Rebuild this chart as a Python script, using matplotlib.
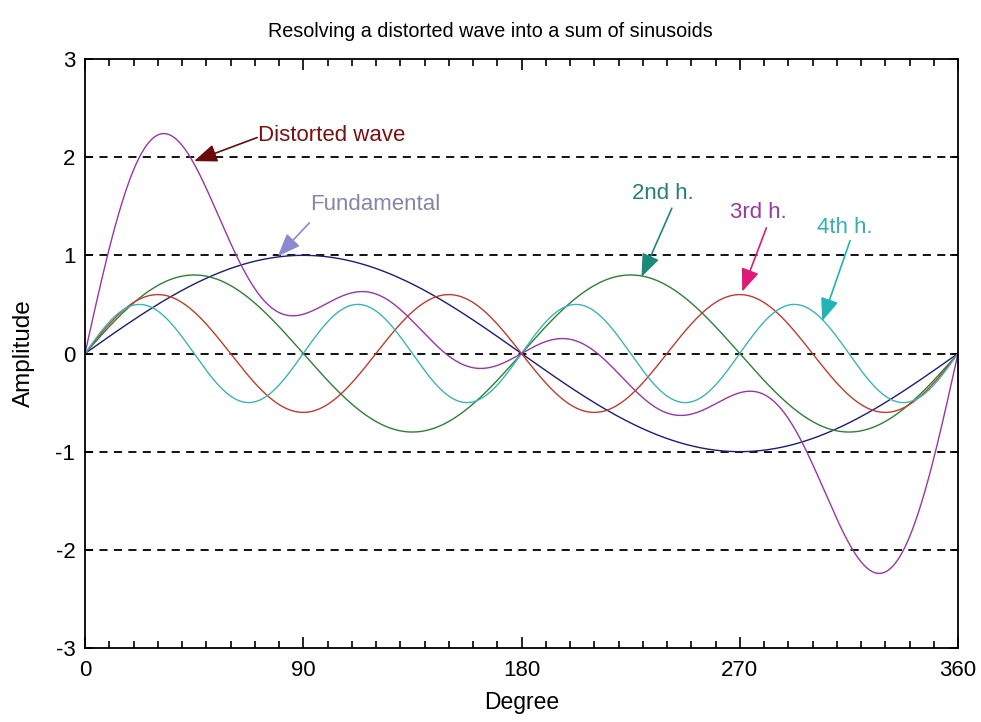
import numpy as np
import matplotlib
matplotlib.use("Agg")
import matplotlib.pyplot as plt

# ---- data ----
degree_grid = np.linspace(0, 360, 721)          # x samples (Degree)
harmonic_orders = [1, 2, 3, 4]
harmonic_amplitudes = [1.0, 0.8, 0.6, 0.5]      # peak amplitudes
harmonic_names = ["Fundamental", "2nd h.", "3rd h.", "4th h."]
distorted_name = "Distorted wave"

x_ticks = [0, 90, 180, 270, 360]
y_ticks = [-3, -2, -1, 0, 1, 2, 3]
title = "Resolving a distorted wave into a sum of sinusoids"
x_label = "Degree"
y_label = "Amplitude"

# annotation anchors (data coordinates): text position, arrow tail, arrow head
annot_text_pos = {
    "Distorted wave": (71.5, 2.22),
    "Fundamental": (93.0, 1.52),
    "2nd h.": (225.5, 1.63),
    "3rd h.": (266.0, 1.44),
    "4th h.": (302.0, 1.28),
}
annot_tail = {
    "Distorted wave": (71.0, 2.20),
    "Fundamental": (92.5, 1.33),
    "2nd h.": (242.0, 1.48),
    "3rd h.": (281.0, 1.28),
    "4th h.": (315.5, 1.15),
}
annot_head = {
    "Distorted wave": (45.0, 1.96),
    "Fundamental": (79.5, 0.99),
    "2nd h.": (229.5, 0.78),
    "3rd h.": (271.0, 0.63),
    "4th h.": (304.0, 0.33),
}

# ---- styles ----
curve_colors = ["#1c1c7a", "#2f7f35", "#c23a2c", "#3cb4b4"]
distorted_color = "#9a35a8"
text_colors = {
    "Distorted wave": "#7a1010",
    "Fundamental": "#8585a8",
    "2nd h.": "#23807a",
    "3rd h.": "#9a3a9a",
    "4th h.": "#35b0b0",
}
arrow_colors = {
    "Distorted wave": "#6a0a0a",
    "Fundamental": "#8a8ad0",
    "2nd h.": "#1a8a7a",
    "3rd h.": "#e0187a",
    "4th h.": "#20b4b4",
}

FONT = ["Liberation Sans", "DejaVu Sans"]
plt.rcParams["font.family"] = FONT
plt.rcParams["axes.unicode_minus"] = False

fig = plt.figure(figsize=(9.81, 7.22), dpi=100)
ax = fig.add_axes([85 / 981, 1 - 648 / 722, (958 - 85) / 981, (648 - 59) / 722])

rad = np.deg2rad(degree_grid)
components = []
for order, amp, color in zip(harmonic_orders, harmonic_amplitudes, curve_colors):
    y = amp * np.sin(order * rad)
    components.append(y)
    ax.plot(degree_grid, y, color=color, lw=1.0)
distorted = np.sum(components, axis=0)
ax.plot(degree_grid, distorted, color=distorted_color, lw=1.0)

# horizontal dashed grid
for yv in y_ticks[1:-1]:
    ax.axhline(yv, color="black", lw=1.3, ls=(0, (4.5, 3.5)), zorder=0.5)

ax.set_xlim(0, 360)
ax.set_ylim(-3, 3)
ax.set_xticks(x_ticks)
ax.set_xticks(np.arange(0, 361, 10), minor=True)
ax.set_yticks(y_ticks)
ax.tick_params(axis="both", which="both", direction="in", top=True, right=True,
               labelsize=16, width=1.2)
ax.tick_params(axis="x", which="major", length=8, pad=9)
ax.tick_params(axis="x", which="minor", length=5)
ax.tick_params(axis="y", which="major", length=6, pad=7)
ax.tick_params(axis="y", which="minor", length=0)
for s in ax.spines.values():
    s.set_linewidth(1.3)

ax.set_title(title, fontsize=14.2, pad=16, x=(490 - 85) / 873)
ax.set_xlabel(x_label, fontsize=16.5, labelpad=7)
ax.set_ylabel(y_label, fontsize=17.5, labelpad=15)

for name in [distorted_name] + harmonic_names:
    tx, ty = annot_text_pos[name]
    ax.text(tx, ty, name, color=text_colors[name], fontsize=16,
            ha="left", va="center")
    ax.annotate("", xy=annot_head[name], xytext=annot_tail[name],
                arrowprops=dict(arrowstyle="-|>,head_length=1.4,head_width=0.55",
                                color=arrow_colors[name], lw=1.2,
                                shrinkA=0, shrinkB=0))

fig.savefig("out.png", dpi=100)
